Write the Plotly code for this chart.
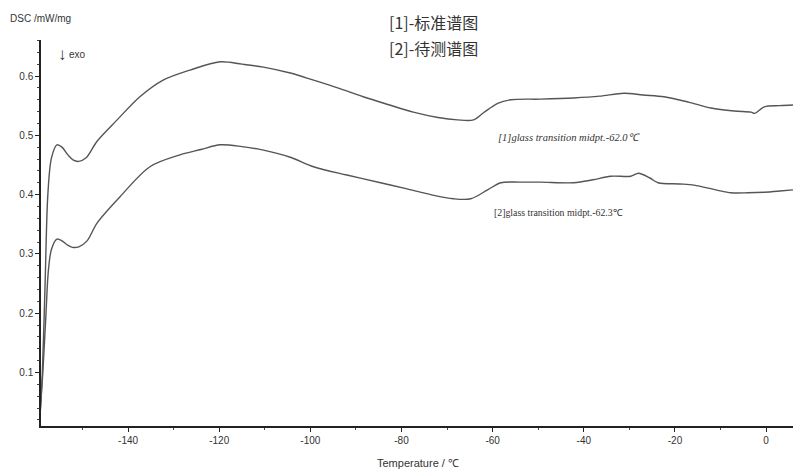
import plotly.graph_objects as go

# Curve [1] standard spectrum
x1 = [-159.3, -158.8, -158.2, -157.6, -156.8, -155.6, -154.5, -153.2, -152.0, -150.8, -149.2,
      -146.8, -142.4, -137.4, -132.3, -126.4, -119.8, -115.0, -110.3, -104.4, -99.3,
      -94.0, -88.4, -83.0, -77.4, -72.0, -67.7, -64.2, -62.0, -58.9, -56.0, -49.5,
      -42.2, -36.5, -31.2, -27.0, -22.4, -17.0, -12.1, -7.0, -3.3, -2.5, -0.4, 3.0, 5.9]
y1 = [0.03, 0.10, 0.25, 0.40, 0.462, 0.484, 0.480, 0.467, 0.458, 0.456, 0.462,
      0.490, 0.526, 0.565, 0.593, 0.610, 0.624, 0.620, 0.615, 0.605, 0.593,
      0.580, 0.565, 0.552, 0.539, 0.530, 0.526, 0.526, 0.538, 0.554, 0.560, 0.561,
      0.563, 0.566, 0.571, 0.568, 0.565, 0.556, 0.546, 0.541, 0.539, 0.537, 0.548, 0.550, 0.551]

# Curve [2] sample under test
x2 = [-159.3, -158.7, -158.0, -157.5, -156.8, -155.6, -154.5, -153.3, -152.2, -150.8, -149.0, -146.8,
      -141.8, -135.2, -128.6, -124.0, -119.8, -115.0, -110.3, -104.4, -99.3, -92.0,
      -84.6, -79.0, -73.6, -68.6, -64.8, -61.1, -58.2, -54.0, -49.5, -42.2, -38.0,
      -34.1, -29.7, -28.0, -25.5, -23.7, -19.0, -15.8, -11.0, -7.7, -4.0, -0.4, 3.0, 5.9]
y2 = [0.03, 0.10, 0.20, 0.27, 0.308, 0.325, 0.322, 0.315, 0.311, 0.312, 0.322, 0.352,
      0.396, 0.447, 0.467, 0.476, 0.484, 0.481, 0.475, 0.463, 0.447, 0.433,
      0.420, 0.410, 0.400, 0.393, 0.393, 0.408, 0.420, 0.421, 0.421, 0.420, 0.425,
      0.431, 0.431, 0.436, 0.428, 0.420, 0.418, 0.416, 0.408, 0.403, 0.403, 0.404, 0.406, 0.408]

x_ticks = [-140, -120, -100, -80, -60, -40, -20, 0]
y_ticks = [0.1, 0.2, 0.3, 0.4, 0.5, 0.6]

W, H = 793, 470
L, R, T, B = 41, 0, 40, 44
PW, PH = W - L - R, H - T - B


def px(x):
    return (x - L) / PW


def py(y):
    return (H - B - y) / PH


line_col = "#555555"
fig = go.Figure()
fig.add_trace(go.Scatter(x=x1, y=y1, mode="lines",
                         line=dict(color=line_col, width=1.4, shape="spline", smoothing=0.9), showlegend=False))
fig.add_trace(go.Scatter(x=x2, y=y2, mode="lines",
                         line=dict(color=line_col, width=1.4, shape="spline", smoothing=0.9), showlegend=False))

axis_font = dict(family="Liberation Sans, Arial, sans-serif", size=10, color="#333")
fig.update_layout(
    width=W, height=H,
    margin=dict(l=L, r=R, t=T, b=B),
    paper_bgcolor="white", plot_bgcolor="white",
    xaxis=dict(range=[-159.1, 5.9], tickvals=x_ticks, ticktext=[str(v) for v in x_ticks],
               showgrid=False, zeroline=False, showline=True, linecolor="#222", linewidth=1.5,
               ticks="outside", ticklen=4, tickcolor="#222", tickfont=axis_font,
               minor=dict(dtick=10, ticks="outside", ticklen=2, tickcolor="#444")),
    yaxis=dict(range=[0.0098, 0.6607], tickvals=y_ticks, ticktext=["0.1", "0.2", "0.3", "0.4", "0.5", "0.6"],
               showgrid=False, zeroline=False, showline=True, linecolor="#222", linewidth=1.5,
               ticks="outside", ticklen=4, tickcolor="#222", tickfont=axis_font,
               minor=dict(dtick=0.02, ticks="outside", ticklen=2, tickcolor="#444")),
)


def text(xp, yp, s, size, family="Liberation Sans, Arial, sans-serif", anchor="left"):
    fig.add_annotation(x=px(xp), y=py(yp), xref="paper", yref="paper", xanchor=anchor, yanchor="middle",
                       text=s, showarrow=False, font=dict(family=family, size=size, color="#333"))


text(8, 18, "DSC /mW/mg", 10)
text(56, 54, "↓", 17)
text(67, 54, "exo", 10)
text(387, 22, "[1]-标准谱图", 16, family="Noto Sans CJK SC")
text(387, 48, "[2]-待测谱图", 16, family="Noto Sans CJK SC")
text(496, 137, "<i>[1]glass transition midpt.-62.0℃</i>", 10.5, family="Liberation Serif, serif")
text(492, 212, "[2]glass transition midpt.-62.3℃", 9.8, family="Liberation Serif, serif")
text(375, 463, "Temperature / ℃", 11)

fig.write_html("out.html")
